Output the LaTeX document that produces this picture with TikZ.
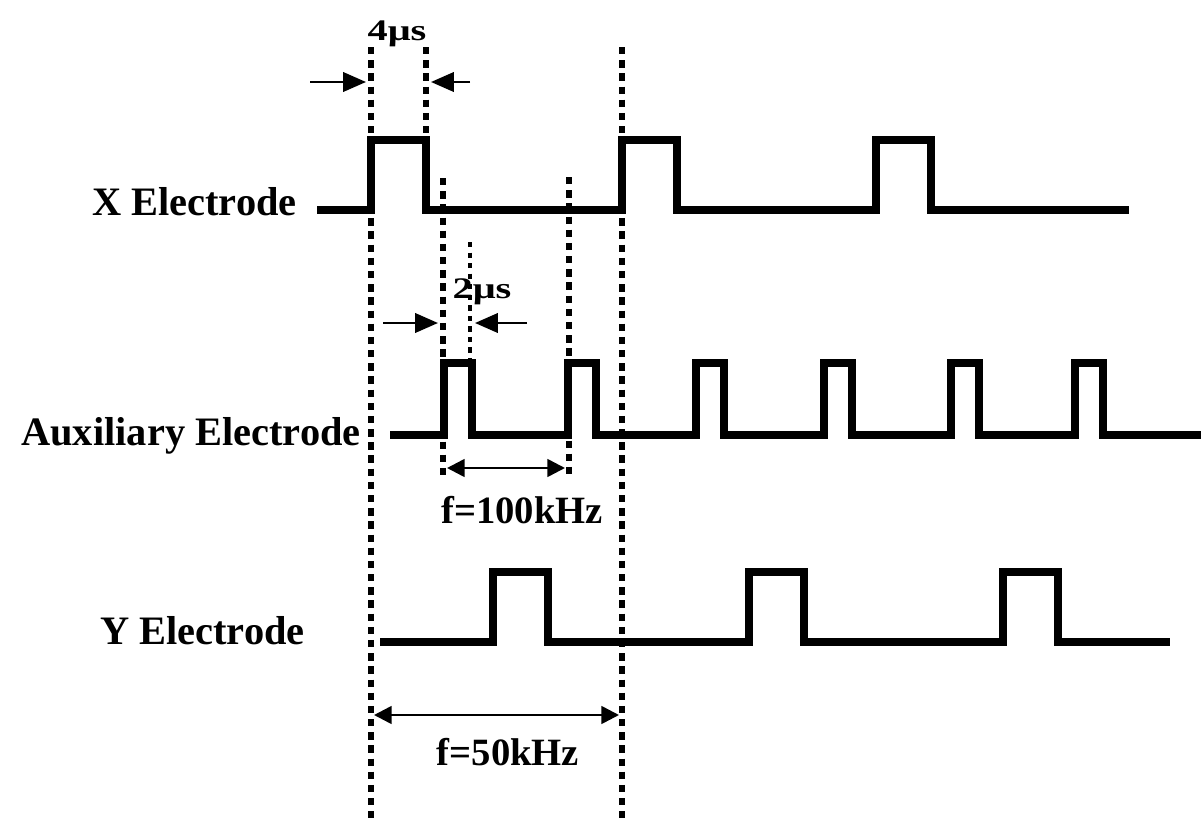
\documentclass[tikz,border=0pt]{standalone}
\usepackage{fontspec}
\setmainfont{Liberation Serif}
\newfontfamily\unitfont[FakeStretch=1.35]{Liberation Serif}
\usetikzlibrary{arrows.meta}
\tikzset{
  wave/.style       = {line width=4.3pt, line join=miter},
  guide/.style      = {line width=3.3pt, dash pattern=on 4.2pt off 3.3pt},
  thin guide/.style = {line width=2.3pt, dash pattern=on 3pt off 3pt},
  dim/.style        = {-{Triangle[length=13pt,width=11pt]}, line width=1.5pt},
  both dim/.style   = {{Triangle[length=10pt,width=10pt]}-{Triangle[length=10pt,width=10pt]}, line width=1.5pt},
  sig name/.style   = {font=\fontsize{23}{27}\selectfont\bfseries, inner sep=0pt, anchor=base east},
  freq name/.style  = {font=\fontsize{22}{26}\selectfont\bfseries, inner sep=0pt, anchor=base},
  width name/.style = {font=\unitfont\fontsize{17}{20}\selectfont\bfseries, inner sep=0pt, anchor=base},
}

\begin{document}
\begin{tikzpicture}[x=0.02cm, y=-0.02cm]
  \useasboundingbox (0,0) rectangle (1201,818);

  % guide lines
  \draw[guide] (371,47) -- (371,818);
  \draw[guide] (426,47) -- (426,140);
  \draw[guide] (622,47) -- (622,818);
  \draw[guide] (443,178) -- (443,478);
  \draw[guide] (569,177) -- (569,480);
  \draw[thin guide] (470,242) -- (470,360);

  % X electrode
  \node[sig name] (xlab) at (297,215) {X Electrode};
  \draw[wave] (317,210) foreach \x in {371,622,876} {
    -- (\x,210) -- (\x,140) -- (\x+55,140) -- (\x+55,210) } -- (1129,210);

  % auxiliary electrode
  \node[sig name] (auxlab) at (361,445) {Auxiliary Electrode};
  \draw[wave] (390,435) foreach \x in {444,568,696,824,951,1075} {
    -- (\x,435) -- (\x,363) -- (\x+28,363) -- (\x+28,435) } -- (1201,435);

  % Y electrode
  \node[sig name] (ylab) at (305,644) {Y Electrode};
  \draw[wave] (380,642) foreach \x in {493,749,1003} {
    -- (\x,642) -- (\x,572) -- (\x+55,572) -- (\x+55,642) } -- (1170,642);

  % pulse widths
  \node[width name] (t4) at (397,40) {4μs};
  \coordinate (t4a) at (310,82);  \coordinate (t4b) at (366,82);
  \coordinate (t4c) at (470,82);  \coordinate (t4d) at (431,82);
  \draw[dim] (t4a) -- (t4b);
  \draw[dim] (t4c) -- (t4d);

  \node[width name] (t2) at (482,298) {2μs};
  \coordinate (t2a) at (383,323); \coordinate (t2b) at (438,323);
  \coordinate (t2c) at (527,323); \coordinate (t2d) at (475,323);
  \draw[dim] (t2a) -- (t2b);
  \draw[dim] (t2c) -- (t2d);

  % periods
  \coordinate (p1a) at (447,468); \coordinate (p1b) at (565,468);
  \draw[both dim] (p1a) -- (p1b);
  \node[freq name] (f100) at (522,523) {f=100kHz};

  \coordinate (p2a) at (374,715); \coordinate (p2b) at (619,715);
  \draw[both dim] (p2a) -- (p2b);
  \node[freq name] (f50) at (508,765) {f=50kHz};
\end{tikzpicture}
\end{document}
